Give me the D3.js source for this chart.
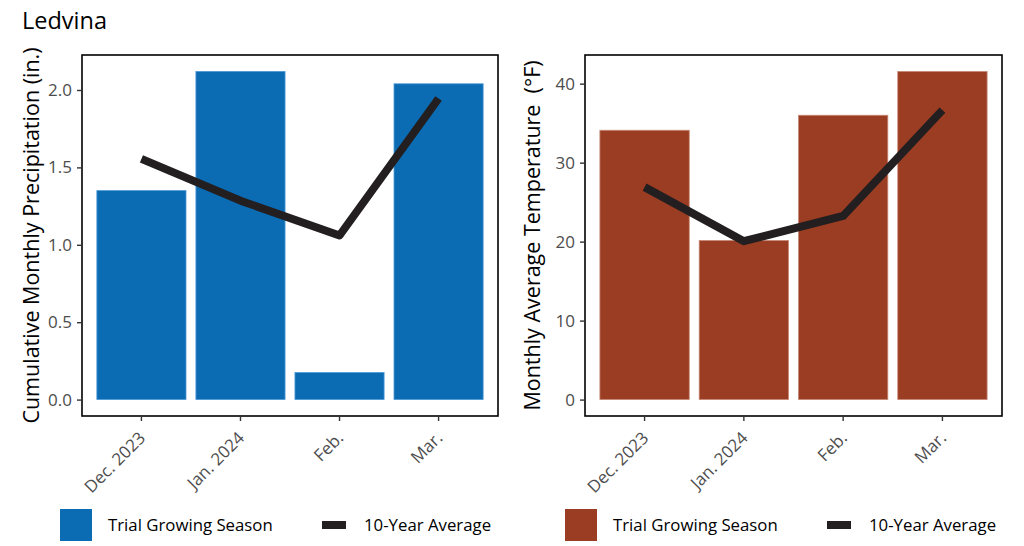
<!DOCTYPE html>
<html><head><meta charset="utf-8">
<script src="https://cdn.jsdelivr.net/npm/d3@7/dist/d3.min.js"></script>
<style>
body{margin:0;background:#fff;}
svg{display:block;font-family:"Open Sans","Noto Sans",sans-serif;}
</style></head>
<body>
<svg id="c" width="1024" height="546"></svg>
<script>
const months = ["Dec. 2023","Jan. 2024","Feb.","Mar."];
const precipTrial = [1.35, 2.12, 0.175, 2.04];
const precipAvg = [1.555, 1.285, 1.06, 1.945];
const tempTrial = [34.1, 20.15, 36.0, 41.55];
const tempAvg = [26.9, 20.05, 23.25, 36.65];
const precipTicks = [0, 0.5, 1.0, 1.5, 2.0];
const tempTicks = [0, 10, 20, 30, 40];
const legendLabels = ["Trial Growing Season", "10-Year Average"];

const svg = d3.select("#c");
svg.append("text").attr("x",22).attr("y",29).attr("font-size",23.5).attr("fill","#000").text("Ledvina");

function panel(o){
  const g = svg.append("g");
  const x = d3.scaleBand().domain(months).range([o.left,o.right]).paddingInner(0.1).paddingOuter(0.15);
  const maxV = d3.max(o.bars.concat(o.line));
  const y = d3.scaleLinear().domain([-maxV*0.05, maxV*1.05]).range([o.bottom,o.top]);
  g.selectAll("rect.bar").data(o.bars).join("rect").attr("class","bar")
    .attr("x",(d,i)=>x(months[i])).attr("width",x.bandwidth())
    .attr("y",d=>y(d)).attr("height",d=>y(0)-y(d))
    .attr("fill",o.color).attr("stroke",o.edge).attr("stroke-width",0.8);
  const line = d3.line().x((d,i)=>x(months[i])+x.bandwidth()/2).y(d=>y(d));
  g.append("path").datum(o.line).attr("d",line).attr("fill","none")
    .attr("stroke","#231f20").attr("stroke-width",8).attr("stroke-linejoin","round").attr("stroke-linecap","butt");
  g.append("rect").attr("x",o.left).attr("y",o.top).attr("width",o.right-o.left).attr("height",o.bottom-o.top)
    .attr("fill","none").attr("stroke","#000").attr("stroke-width",1.6);
  const ya = g.append("g").attr("transform",`translate(${o.left},0)`)
    .call(d3.axisLeft(y).tickValues(o.ticks).tickFormat(o.fmt).tickSize(5).tickPadding(5));
  ya.select(".domain").remove();
  ya.selectAll("line").attr("stroke","#333").attr("stroke-width",1.4);
  ya.selectAll("text").attr("font-size",17).attr("fill","#4d4d4d").attr("font-family","Open Sans");
  const xa = g.append("g").attr("transform",`translate(0,${o.bottom})`)
    .call(d3.axisBottom(x).tickSize(5).tickSizeOuter(0));
  xa.select(".domain").remove();
  xa.selectAll("line").attr("stroke","#333").attr("stroke-width",1.4);
  xa.selectAll("text").attr("font-size",17).attr("fill","#4d4d4d").attr("font-family","Open Sans")
    .attr("text-anchor","end").attr("dy",null).attr("y",null)
    .attr("transform","translate(5,23) rotate(-45)");
  g.append("text").attr("transform",`translate(${o.titleX},${(o.top+o.bottom)/2}) rotate(-90)`)
    .attr("text-anchor","middle").attr("font-size",21.5).attr("fill","#000")
    .style("white-space","pre").text(o.title);
  // legend
  const lg = g.append("g");
  lg.append("rect").attr("x",o.legX).attr("y",509).attr("width",32).attr("height",32).attr("fill",o.color);
  lg.append("text").attr("x",o.legX+48).attr("y",531).attr("font-size",16.8).attr("fill","#000").text(legendLabels[0]);
  lg.append("rect").attr("x",o.legX+262).attr("y",521).attr("width",24).attr("height",8).attr("fill","#231f20");
  lg.append("text").attr("x",o.legX+304).attr("y",531).attr("font-size",16.8).attr("fill","#000").text(legendLabels[1]);
}

panel({left:82,right:498,top:55,bottom:416,bars:precipTrial,line:precipAvg,ticks:precipTicks,
  fmt:d3.format(".1f"),color:"#0b6cb4",edge:"#4f9ad6",title:"Cumulative Monthly Precipitation (in.)",titleX:39,legX:60});
panel({left:585,right:1002,top:55,bottom:416,bars:tempTrial,line:tempAvg,ticks:tempTicks,
  fmt:d3.format("d"),color:"#9b3d23",edge:"#c98a78",title:"Monthly Average Temperature  (°F)",titleX:540,legX:565});
</script>
</body></html>
